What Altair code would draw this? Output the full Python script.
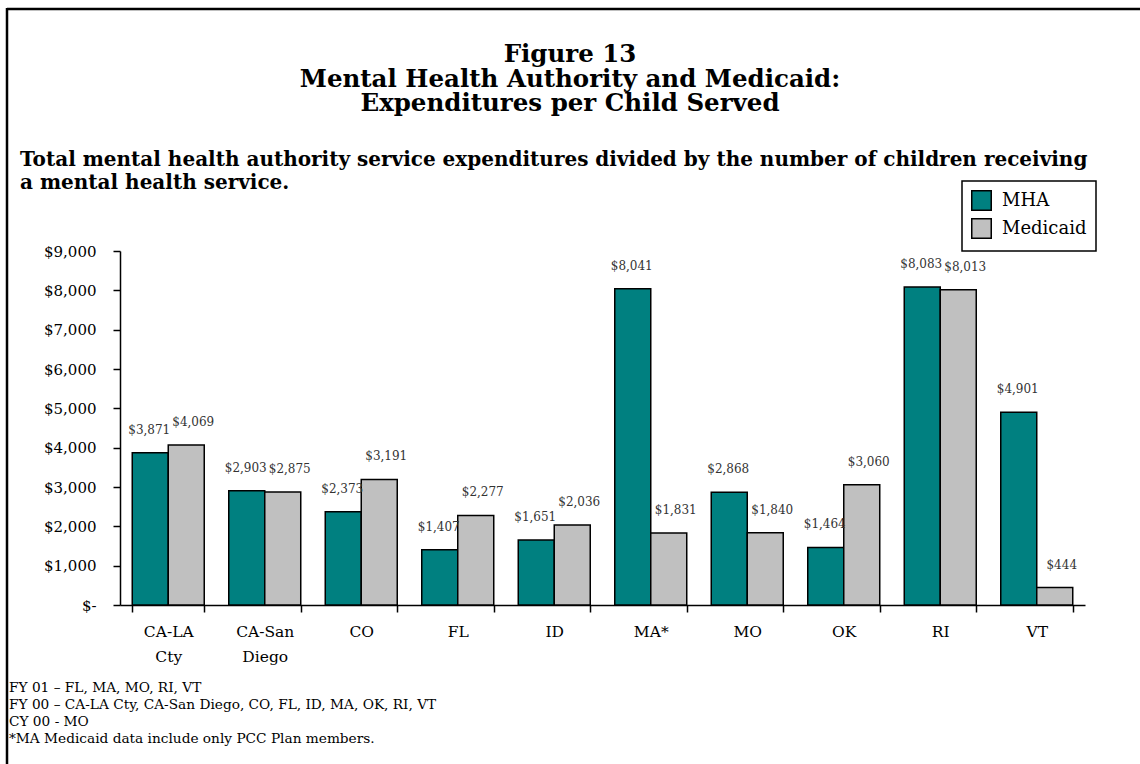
import altair as alt
import pandas as pd

categories = ["CA-LA Cty", "CA-San Diego", "CO", "FL", "ID", "MA*", "MO", "OK", "RI", "VT"]
mha = [3871, 2903, 2373, 1407, 1651, 8041, 2868, 1464, 8083, 4901]
medicaid = [4069, 2875, 3191, 2277, 2036, 1831, 1840, 3060, 8013, 444]
series = ["MHA", "Medicaid"]
colors = ["#008080", "#C0C0C0"]
y_ticks = [0, 1000, 2000, 3000, 4000, 5000, 6000, 7000, 8000, 9000]

title_lines = [
    "Figure 13",
    "Mental Health Authority and Medicaid:",
    "Expenditures per Child Served",
]
subtitle_lines = [
    "Total mental health authority service expenditures divided by the number of children receiving",
    "a mental health service.",
]
footnotes = [
    "FY 01 \u2013 FL, MA, MO, RI, VT",
    "FY 00 \u2013 CA-LA Cty, CA-San Diego, CO,  FL, ID, MA, OK, RI, VT",
    "CY 00 - MO",
    "*MA Medicaid data include only PCC Plan members.",
]

rows = []
for c, a, b in zip(categories, mha, medicaid):
    rows.append({"state": c, "series": series[0], "value": a})
    rows.append({"state": c, "series": series[1], "value": b})
df = pd.DataFrame(rows)

FONT = "DejaVu Serif"

x_enc = alt.X(
    "state:N",
    sort=categories,
    title=None,
    scale=alt.Scale(paddingInner=0.254, paddingOuter=0.127),
    axis=alt.Axis(
        labelAngle=0,
        labelExpr="split(datum.label, ' ')",
        labelFontSize=15.5,
        labelLineHeight=25,
        labelPadding=12,
        labelBaseline="top",
        labelOverlap=False,
        tickBand="extent",
        tickSize=7,
        domainColor="black",
        tickColor="black",
        domainWidth=1.5,
        tickWidth=1.5,
        labelColor="black",
        labelFont=FONT,
    ),
)
y_enc = alt.Y(
    "value:Q",
    title=None,
    scale=alt.Scale(domain=[0, 9000], nice=False),
    axis=alt.Axis(
        values=y_ticks,
        tickCount=10,
        grid=False,
        labelOverlap=False,
        labelExpr="datum.value == 0 ? '$-' : '$' + format(datum.value, ',')",
        labelFontSize=15,
        labelPadding=17,
        tickSize=7,
        domainColor="black",
        tickColor="black",
        domainWidth=1.5,
        tickWidth=1.5,
        labelColor="black",
        labelFont=FONT,
    ),
)
xoff = alt.XOffset("series:N", sort=series, scale=alt.Scale(paddingInner=0, paddingOuter=0))

bars = alt.Chart(df).mark_bar(stroke="black", strokeWidth=1.5).encode(
    x=x_enc,
    y=y_enc,
    xOffset=xoff,
    color=alt.Color(
        "series:N",
        sort=series,
        scale=alt.Scale(domain=series, range=colors),
        legend=alt.Legend(
            title=None,
            orient="none",
            legendX=842,
            legendY=-70,
            direction="vertical",
            symbolType="square",
            symbolSize=380,
            symbolStrokeColor="black",
            symbolStrokeWidth=1.5,
            symbolOpacity=1,
            labelFontSize=18,
            labelFont=FONT,
            labelColor="black",
            labelOffset=10,
            rowPadding=1,
            padding=9,
            strokeColor="black",
            fillColor="white",
        ),
    ),
)

def value_labels(name, dx):
    return alt.Chart(df).transform_filter(
        alt.datum.series == name
    ).mark_text(
        baseline="bottom", dy=-16, dx=dx, fontSize=12, font=FONT, color="#333333"
    ).encode(
        x=x_enc,
        xOffset=xoff,
        y=y_enc,
        text=alt.Text("value:Q", format="$,.0f"),
    )

one = pd.DataFrame({"k": [0]})
layers = [bars, value_labels(series[0], -1), value_labels(series[1], 7)]

# Title lines (centered)
for i, line in enumerate(title_lines):
    layers.append(
        alt.Chart(one).mark_text(
            text=line, fontSize=24.5, fontWeight="bold", font=FONT, align="center",
            baseline="middle", color="black"
        ).encode(x=alt.value(450), y=alt.value(-196 + 24.5 * i))
    )
# Subtitle lines (left aligned)
for i, line in enumerate(subtitle_lines):
    layers.append(
        alt.Chart(one).mark_text(
            text=line, fontSize=20, fontWeight="bold", font=FONT, align="left",
            baseline="middle", color="black"
        ).encode(x=alt.value(-100), y=alt.value(-91 + 23 * i))
    )
# Footnotes
for i, line in enumerate(footnotes):
    layers.append(
        alt.Chart(one).mark_text(
            text=line, fontSize=13.7, font=FONT, align="left",
            baseline="middle", color="black"
        ).encode(x=alt.value(-111), y=alt.value(437 + 17 * i))
    )
# Frame (top and left edges)
layers.append(
    alt.Chart(one).mark_rule(color="black", strokeWidth=2.5).encode(
        x=alt.value(-113), x2=alt.value(1025), y=alt.value(-242)
    )
)
layers.append(
    alt.Chart(one).mark_rule(color="black", strokeWidth=2.5).encode(
        x=alt.value(-113), y=alt.value(-243), y2=alt.value(520)
    )
)

chart = alt.layer(*layers).properties(
    width=965,
    height=354,
    autosize=alt.AutoSizeParams(type="none"),
    padding={"left": 120, "top": 251, "right": 55, "bottom": 159},
    background="white",
).configure_view(stroke=None).configure_legend(strokeWidth=1.5)

chart.save("out.html", embed_options={"renderer": "svg", "actions": False})
